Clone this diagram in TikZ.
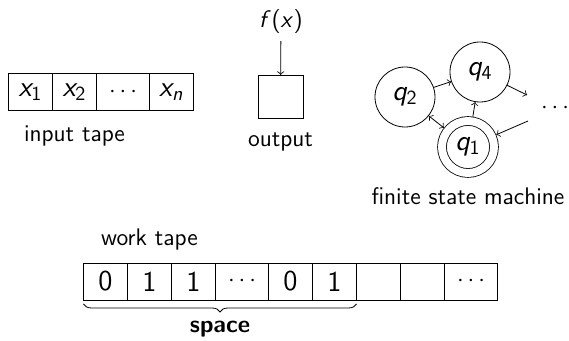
\documentclass[tikz,border=0pt]{standalone}
\renewcommand{\familydefault}{\sfdefault}
% sans serif letters and digits in formulas
\SetSymbolFont{operators}{normal}{OT1}{cmss}{m}{n}
\SetSymbolFont{letters}{normal}{OT1}{cmss}{m}{sl}
\usetikzlibrary{positioning,decorations.pathreplacing}

\tikzset{
  cell/.style={draw, minimum width=22pt, minimum height=18.5pt, inner sep=0pt, outer sep=0pt, font=\Large},
  widecell/.style={cell, minimum width=26.5pt, font=\large},
  state/.style={circle, draw, minimum size=30pt, inner sep=0pt, font=\Large},
  accepting/.style={double, double distance=4pt, minimum size=26pt, outer sep=2.4pt}
}

\begin{document}
\begin{tikzpicture}[x=0.5pt, y=-0.5pt, font=\large]
    \useasboundingbox (0,0) rectangle (569,341);

    % input tape
    \node[cell] (in1) at (30.5,92) {$x_1$};
    \node[cell, right=0pt of in1] (in2) {$x_2$};
    \node[widecell, right=0pt of in2] (in3) {$\cdots$};
    \node[cell, right=0pt of in3] (in4) {$x_n$};
    \node[below=4pt of in2] (inlabel) {input tape};

    % output
    \node[draw, minimum width=22.5pt, minimum height=21.5pt, outer sep=0pt] (out) at (280.5,96.5) {};
    \node (fx) at (281,22) {$f(x)$};
    \draw[->] (fx) -- (out);
    \node[below=4pt of out] (outlabel) {output};

    % finite state machine
    \node[state] (q2) at (405,97) {$q_2$};
    \node[state] (q4) at (480,72) {$q_4$};
    \node[state, accepting] (q1) at (468,147) {$q_1$};
    \node (qdots) at (555,108) {$\cdots$};
    \coordinate (qout) at (527,95);
    \coordinate (qin) at (528,121);
    \draw[->] (q2) -- (q4);
    \draw[<->] (q2) -- (q1);
    \draw[->] (q1) -- (q4);
    \draw[->] (q4) -- (qout);
    \draw[->] (qin) -- (q1);
    \node[below=1.5pt of q1] (fsmlabel) {finite state machine};

    % work tape
    \node[cell] (wk1) at (105.5,281.5) {0};
    \node[cell, right=0pt of wk1] (wk2) {1};
    \node[cell, right=0pt of wk2] (wk3) {1};
    \node[widecell, right=0pt of wk3] (wk4) {$\cdots$};
    \node[cell, right=0pt of wk4] (wk5) {0};
    \node[cell, right=0pt of wk5] (wk6) {1};
    \node[cell, right=0pt of wk6] (wk7) {};
    \node[cell, right=0pt of wk7] (wk8) {};
    \node[widecell, right=0pt of wk8] (wk9) {$\cdots$};
    \node[above=3pt of wk2] (wklabel) {work tape};

    % used cells
    \draw[decorate, decoration={brace, mirror, amplitude=4pt, raise=2pt}]
        (wk1.south west) -- (wk6.south east)
        node[midway, below=7pt, font=\large\bfseries] (spacelabel) {space};
\end{tikzpicture}
\end{document}
